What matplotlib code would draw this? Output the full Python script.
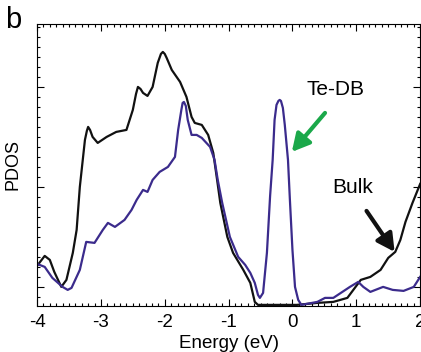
import numpy as np
import matplotlib
matplotlib.use('Agg')
import matplotlib.pyplot as plt
from matplotlib.ticker import MultipleLocator, FixedLocator, NullFormatter

plt.rcParams['font.family'] = ['Liberation Sans', 'DejaVu Sans']
plt.rcParams['axes.unicode_minus'] = False

# Bulk PDOS (black)
bulk_e = [-4.00, -3.88, -3.80, -3.73, -3.62, -3.54, -3.44, -3.38, -3.33, -3.25,
          -3.22, -3.20, -3.17, -3.13, -3.05, -2.91, -2.76, -2.60, -2.50, -2.45,
          -2.42, -2.38, -2.34, -2.27, -2.19, -2.11, -2.06, -2.03, -2.00, -1.97,
          -1.89, -1.76, -1.66, -1.58, -1.53, -1.42, -1.32, -1.24, -1.18, -1.13,
          -1.02, -0.93, -0.77, -0.66, -0.59, -0.54, 0.07, 0.39, 0.64, 0.86,
          1.07, 1.22, 1.38, 1.50, 1.61, 1.69, 1.77, 1.88, 2.00]
bulk_pdos = [0.40, 0.50, 0.46, 0.34, 0.19, 0.26, 0.53, 0.76, 1.19, 1.66,
             1.75, 1.79, 1.76, 1.69, 1.63, 1.69, 1.74, 1.76, 1.96, 2.12,
             2.19, 2.17, 2.13, 2.10, 2.19, 2.43, 2.52, 2.54, 2.52, 2.48,
             2.36, 2.24, 2.09, 1.89, 1.83, 1.81, 1.71, 1.53, 1.26, 1.03,
             0.69, 0.53, 0.36, 0.23, 0.04, 0.01, 0.01, 0.03, 0.04, 0.08,
             0.26, 0.29, 0.36, 0.48, 0.54, 0.66, 0.84, 1.03, 1.22]

# Te dangling bond PDOS (blue)
tedb_e = [-4.00, -3.96, -3.88, -3.76, -3.60, -3.52, -3.46, -3.33, -3.23, -3.10,
          -2.97, -2.89, -2.78, -2.63, -2.52, -2.44, -2.34, -2.27, -2.19, -2.08,
          -1.95, -1.84, -1.79, -1.74, -1.72, -1.70, -1.67, -1.64, -1.58, -1.50,
          -1.42, -1.29, -1.22, -1.17, -1.10, -0.98, -0.85, -0.74, -0.66, -0.59,
          -0.54, -0.51, -0.46, -0.40, -0.35, -0.31, -0.28, -0.25, -0.22, -0.20,
          -0.18, -0.15, -0.12, -0.07, -0.04, 0.00, 0.04, 0.09, 0.14, 0.39,
          0.51, 0.64, 0.90, 1.03, 1.11, 1.22, 1.42, 1.57, 1.74, 1.90, 2.00]
tedb_pdos = [0.42, 0.41, 0.39, 0.28, 0.19, 0.16, 0.18, 0.36, 0.64, 0.63,
             0.76, 0.83, 0.79, 0.86, 0.96, 1.06, 1.16, 1.14, 1.26, 1.34,
             1.39, 1.49, 1.76, 1.96, 2.03, 2.04, 2.00, 1.86, 1.71, 1.71,
             1.68, 1.59, 1.46, 1.26, 1.03, 0.69, 0.49, 0.41, 0.33, 0.23,
             0.11, 0.08, 0.13, 0.53, 1.10, 1.46, 1.86, 2.01, 2.05, 2.06,
             2.05, 1.98, 1.81, 1.46, 1.06, 0.56, 0.19, 0.06, 0.01, 0.04,
             0.08, 0.08, 0.19, 0.24, 0.19, 0.14, 0.19, 0.16, 0.15, 0.19, 0.29]

fig = plt.figure(figsize=(4.21, 3.52), dpi=100)
ax = fig.add_axes([0.088, 0.131, 0.910, 0.801])

ax.plot(bulk_e, bulk_pdos, color='#111111', lw=1.6, solid_joinstyle='round')
ax.plot(tedb_e, tedb_pdos, color='#3b2b8c', lw=1.6, solid_joinstyle='round')

ax.set_xlim(-4, 2)
ax.set_ylim(0, 2.82)

# ticks inward on all sides, no y labels
ax.xaxis.set_major_locator(MultipleLocator(1))
ax.xaxis.set_minor_locator(MultipleLocator(0.1))
ax.yaxis.set_major_locator(FixedLocator([0.193, 1.193, 2.193]))
ax.yaxis.set_minor_locator(FixedLocator(np.arange(0.093, 2.82, 0.1)))
ax.yaxis.set_major_formatter(NullFormatter())
ax.tick_params(which='both', direction='in', top=True, right=True, width=0.8)
ax.tick_params(which='major', length=5, labelsize=13.5, pad=5.5)
ax.tick_params(which='minor', length=2.5)
for s in ax.spines.values():
    s.set_linewidth(0.8)

ax.set_xlabel('Energy (eV)', fontsize=13.5, labelpad=3)
ax.set_ylabel('PDOS', fontsize=13, labelpad=6)

# annotations
ax.annotate('', xy=(-0.01, 1.54), xytext=(0.51, 1.93),
            arrowprops=dict(arrowstyle='-|>,head_length=0.75,head_width=0.4',
                            color='#1ba84a', lw=3, mutation_scale=14,
                            shrinkA=0, shrinkB=0))
ax.text(0.675, 2.16, 'Te-DB', fontsize=15, ha='center', va='center')

ax.annotate('', xy=(1.60, 0.54), xytext=(1.16, 0.95),
            arrowprops=dict(arrowstyle='-|>,head_length=0.75,head_width=0.4',
                            color='#111111', lw=3, mutation_scale=14,
                            shrinkA=0, shrinkB=0))
ax.text(0.94, 1.18, 'Bulk', fontsize=15, ha='center', va='center')

fig.text(0.012, 1 - 28 / 352, 'b', fontsize=21, ha='left', va='baseline')

fig.savefig('out.png', dpi=100)
